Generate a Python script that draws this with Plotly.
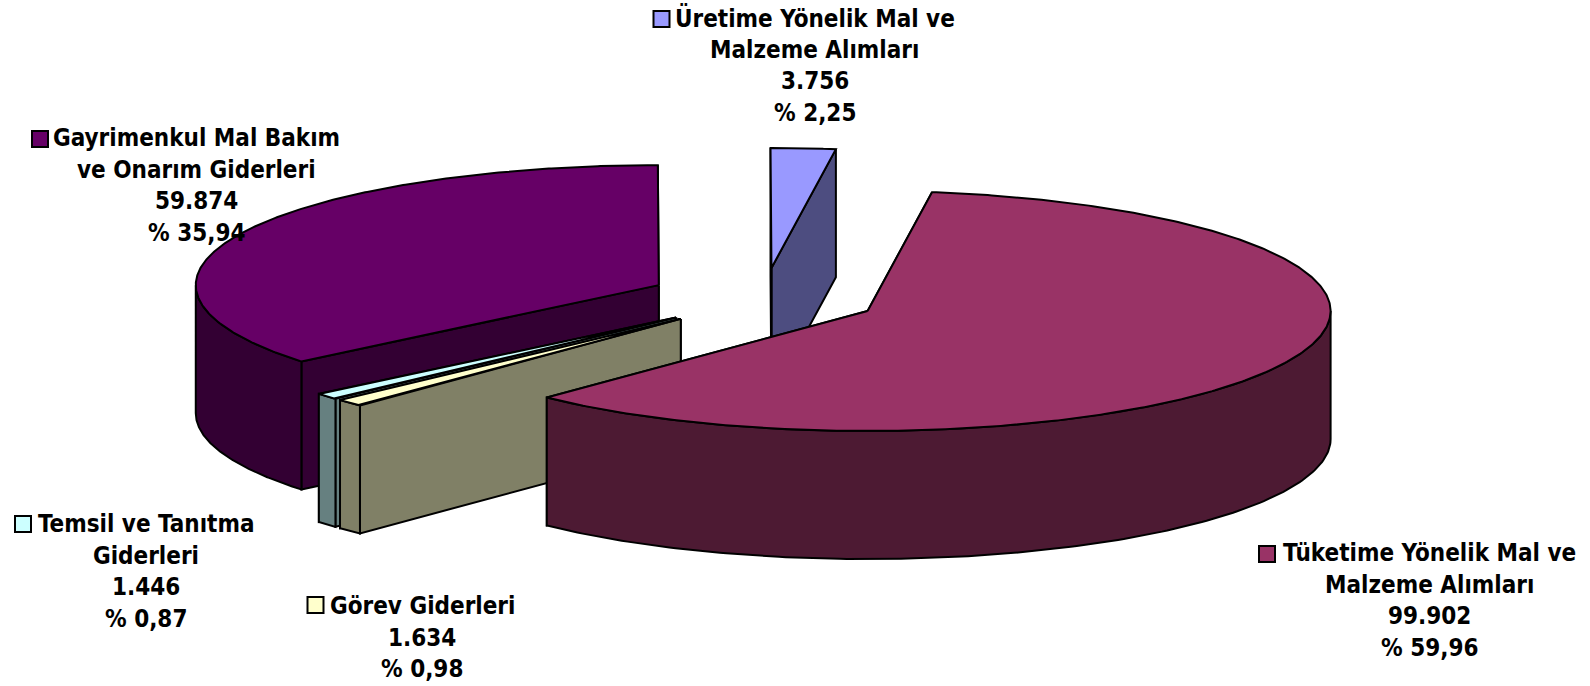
import numpy as np
import plotly.graph_objects as go

# ---- data (clockwise, starting from the first slice) ----
categories = [
    "Tüketime Yönelik Mal ve|Malzeme Alımları",
    "Görev Giderleri",
    "Temsil ve Tanıtma|Giderleri",
    "Gayrimenkul Mal Bakım|ve Onarım Giderleri",
    "Üretime Yönelik Mal ve|Malzeme Alımları",
]
values = [99902, 1634, 1446, 59874, 3756]
value_labels = ["99.902", "1.634", "1.446", "59.874", "3.756"]
percent_labels = ["% 59,96", "% 0,98", "% 0,87", "% 35,94", "% 2,25"]

# ---- styles ----
top_colors = ["#993366", "#FFFFCC", "#CCFFFF", "#660066", "#9999FF"]
side_colors = ["#4D1A33", "#808066", "#668080", "#330033", "#4D4D80"]
draw_order = [4, 3, 2, 1, 0]  # back to front

# ---- projection of the 3D pie ----
W, H = 1590, 686
CX, CY = 763.5, 297.9
RX, RY = 463.0, 120.0
DEPTH = 128.0
EXPLODE = 0.25
START_DEG = 8.0
LINE = dict(color="#000000", width=2)

# ---- label layout: text centre x, first-line y, line step, key x ----
label_x = [1429, 422, 146, 196.5, 814.5]
label_y = [553, 606, 524, 138, 18]
label_step = 31.5
key_x = [1267, 315.5, 23, 40, 661.5]
key_y = [554, 605, 524, 139, 19]
FONT = dict(family="DejaVu Sans Condensed, DejaVu Sans", size=24, color="#000000", weight=700)


def ell(deg, ox=0.0, oy=0.0, f=1.0):
    t = np.radians(deg)
    return ox + f * RX * np.sin(t), oy - f * RY * np.cos(t)


def poly(fig, xs, ys, color):
    fig.add_trace(go.Scatter(x=list(xs), y=list(ys), mode="lines", fill="toself",
                             fillcolor=color, line=LINE, hoverinfo="skip", showlegend=False))


total = sum(values)
edges = START_DEG + np.concatenate([[0], np.cumsum(values)]) / total * 360.0

fig = go.Figure()
for i in draw_order:
    a1, a2 = edges[i], edges[i + 1]
    mid = (a1 + a2) / 2
    ox, oy = ell(mid, CX, CY, EXPLODE)
    # cut faces
    for a in (a2, a1):
        ex, ey = ell(a, ox, oy)
        poly(fig, [ox, ex, ex, ox, ox], [oy, ey, ey + DEPTH, oy + DEPTH, oy], side_colors[i])
    # outer wall (front half only)
    w1, w2 = max(a1, 90.0), min(a2, 270.0)
    if w2 > w1:
        arc = np.linspace(w1, w2, 160)
        ax, ay = ell(arc, ox, oy)
        poly(fig, np.r_[ax, ax[::-1], ax[0]], np.r_[ay, ay[::-1] + DEPTH, ay[0]], side_colors[i])
    # top surface
    arc = np.linspace(a1, a2, 400)
    ax, ay = ell(arc, ox, oy)
    poly(fig, np.r_[ox, ax, ox], np.r_[oy, ay, oy], top_colors[i])

# legend keys
fig.add_trace(go.Scatter(x=key_x, y=key_y, mode="markers", hoverinfo="skip", showlegend=False,
                         marker=dict(symbol="square", size=16, color=top_colors,
                                     line=dict(color="#000000", width=2))))

# labels
for i, cat in enumerate(categories):
    lines = cat.split("|") + [value_labels[i], percent_labels[i]]
    for j, txt in enumerate(lines):
        fig.add_annotation(x=label_x[i], y=label_y[i] + j * label_step, text=txt, showarrow=False,
                           xanchor="center", yanchor="middle", font=FONT)

fig.update_layout(
    width=W, height=H, margin=dict(l=0, r=0, t=0, b=0),
    paper_bgcolor="#FFFFFF", plot_bgcolor="#FFFFFF", showlegend=False,
    xaxis=dict(range=[0, W], visible=False, fixedrange=True),
    yaxis=dict(range=[H, 0], visible=False, fixedrange=True),
)
fig.write_html("out.html", config=dict(displayModeBar=False),
               post_script="document.body.style.margin='0';document.body.style.overflow='hidden';")
